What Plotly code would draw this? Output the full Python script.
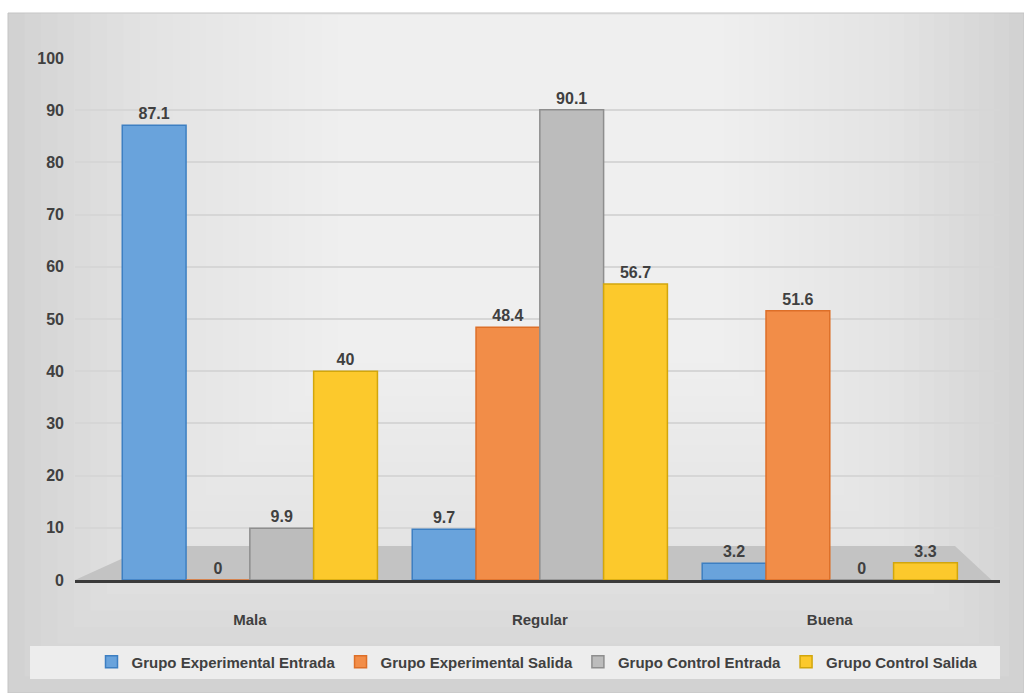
import plotly.graph_objects as go

# Categories and series values
categorias = ["Mala", "Regular", "Buena"]
exp_entrada = [87.1, 9.7, 3.2]
exp_salida = [0, 48.4, 51.6]
ctrl_entrada = [9.9, 90.1, 0]
ctrl_salida = [40, 56.7, 3.3]
y_ticks = [0, 10, 20, 30, 40, 50, 60, 70, 80, 90, 100]

series = [
    ("Grupo Experimental Entrada", exp_entrada, "#69a3dc", "#3d7fc2"),
    ("Grupo Experimental Salida", exp_salida, "#f28d48", "#dd6f28"),
    ("Grupo Control Entrada", ctrl_entrada, "#bcbcbc", "#8e8e8e"),
    ("Grupo Control Salida", ctrl_salida, "#fcc92c", "#d2a60c"),
]

FONT = "Liberation Sans Narrow, Arial Narrow, Liberation Sans, Arial, sans-serif"
TXT = "#404040"

fig = go.Figure()
for name, vals, fill, edge in series:
    fig.add_trace(go.Bar(
        name=name, x=categorias, y=vals,
        marker=dict(color=fill, line=dict(color=edge, width=1.5)),
        text=[f"{v:g}" for v in vals], textposition="outside",
        textfont=dict(family=FONT, size=16, color=TXT, weight="bold"),
        cliponaxis=False,
    ))

# Plot area geometry (pixels) used to place the chart-frame decorations
L, R, T, B = 75, 1000, 58, 580
W, H = R - L, B - T


def px(x):
    return (x - L) / W


def py(y):
    return (B - y) / H


shapes = []
# Background frame with a soft light centre (stacked translucent panels)
shapes.append(dict(type="rect", xref="paper", yref="paper", layer="below",
                   x0=px(8), x1=px(1024), y0=py(693), y1=py(13),
                   fillcolor="#d2d2d2", line=dict(color="#c4c4c4", width=1)))
steps = 20
for i in range(1, steps + 1):
    f = i / steps
    x0 = 8 + f * 330
    x1 = 1024 - f * 300
    y0 = 13 + f * 2
    y1 = 693 - f * 330
    shapes.append(dict(type="rect", xref="paper", yref="paper", layer="below",
                       x0=px(x0), x1=px(x1), y0=py(y1), y1=py(y0),
                       fillcolor="rgba(255,255,255,0.065)", line=dict(width=0)))
# Grey floor under the bars
shapes.append(dict(type="path", xref="paper", yref="y", layer="below",
                   path=f"M {px(75)},0 L {px(150)},6.5 L {px(955)},6.5 L {px(1000)},-1.5 Z",
                   fillcolor="#c3c3c3", line=dict(width=0)))
# Legend panel
shapes.append(dict(type="rect", xref="paper", yref="paper", layer="below",
                   x0=px(30), x1=px(1000), y0=py(679), y1=py(646),
                   fillcolor="#ededed", line=dict(width=0)))

fig.update_layout(
    width=1024, height=693,
    margin=dict(l=L, r=1024 - R, t=T, b=693 - B, autoexpand=False),
    paper_bgcolor="white", plot_bgcolor="rgba(0,0,0,0)",
    barmode="group", bargap=0.12, bargroupgap=0.0,
    shapes=shapes,
    font=dict(family=FONT, color=TXT),
    showlegend=True,
    legend=dict(orientation="h", x=0.5, xanchor="center", y=py(662), yanchor="middle",
                bgcolor="rgba(0,0,0,0)", font=dict(family=FONT, size=15, color=TXT, weight="bold"),
                itemwidth=30, traceorder="normal", tracegroupgap=0),
)
fig.update_xaxes(
    range=[-0.603, 2.587],
    showline=True, linecolor="#3a3a3a", linewidth=3,
    ticks="", ticklabelstandoff=24,
    tickfont=dict(family=FONT, size=15, color=TXT, weight="bold"),
    showgrid=False, zeroline=False,
)
fig.update_yaxes(
    range=[0, 100], tickvals=y_ticks,
    showgrid=True, gridcolor="#d6d6d6", gridwidth=1.5,
    zeroline=False, showline=False, ticks="",
    ticklabelstandoff=10,
    tickfont=dict(family=FONT, size=16, color=TXT, weight="bold"),
)

fig.write_html("out.html")
